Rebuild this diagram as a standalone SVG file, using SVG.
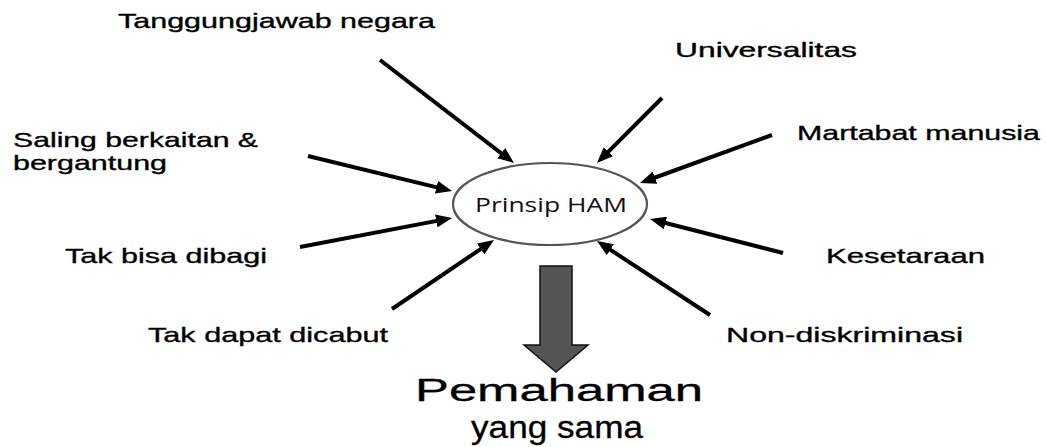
<svg xmlns="http://www.w3.org/2000/svg" width="1046" height="447" viewBox="0 0 1046 447">
  <style>
    .lbl { font-family: "Liberation Sans", Arial, sans-serif; font-size: 21px; fill: #000; stroke: #000; stroke-width: 0.35; }
    .big { font-family: "Liberation Sans", Arial, sans-serif; font-size: 31px; fill: #000; stroke: #000; stroke-width: 0.3; }
    .conn { stroke: #000; stroke-width: 4; fill: none; marker-end: url(#ah); }
  </style>
  <defs>
    <marker id="ah" markerUnits="userSpaceOnUse" markerWidth="16" markerHeight="13" refX="10" refY="6.5" orient="auto">
      <path d="M0,0 L16,6.5 L0,13 z" fill="#000"/>
    </marker>
  </defs>
  <rect width="1046" height="447" fill="#fff"/>

  <g id="connectors">
    <line class="conn" x1="380" y1="60" x2="509.2" y2="159.3"/>
    <line class="conn" x1="662" y1="98" x2="601.2" y2="158.8"/>
    <line class="conn" x1="772" y1="135" x2="645.6" y2="181"/>
    <line class="conn" x1="783" y1="253" x2="655.8" y2="220.5"/>
    <line class="conn" x1="710" y1="315" x2="602" y2="244.3"/>
    <line class="conn" x1="392" y1="309" x2="489" y2="243.4"/>
    <line class="conn" x1="300" y1="247" x2="446.1" y2="219.1"/>
    <line class="conn" x1="308" y1="156" x2="446.2" y2="189.6"/>
    <polygon id="block-arrow" points="540,266 572,266 572,345 588,345 556,372 524,345 540,345" fill="#555" stroke="#111" stroke-width="1.5"/>
  </g>

  <g id="center">
    <ellipse cx="550" cy="204" rx="97" ry="41" fill="#fff" stroke="#555" stroke-width="2.2"/>
    <text x="475" y="212" font-family="'Open Sans', 'Noto Sans', sans-serif" font-size="20" fill="#111" textLength="152" lengthAdjust="spacingAndGlyphs">Prinsip HAM</text>
  </g>

  <g id="n-tanggungjawab"><text class="lbl" x="118" y="28" font-size="22" textLength="317" lengthAdjust="spacingAndGlyphs">Tanggungjawab negara</text></g>
  <g id="n-universalitas"><text class="lbl" x="675" y="57" textLength="182" lengthAdjust="spacingAndGlyphs">Universalitas</text></g>
  <g id="n-saling">
    <text class="lbl" x="13" y="147" textLength="245" lengthAdjust="spacingAndGlyphs">Saling berkaitan &amp;</text>
    <text class="lbl" x="13" y="170" textLength="154" lengthAdjust="spacingAndGlyphs">bergantung</text>
  </g>
  <g id="n-martabat"><text class="lbl" x="797" y="140" textLength="243" lengthAdjust="spacingAndGlyphs">Martabat manusia</text></g>
  <g id="n-takbisa"><text class="lbl" x="65" y="263" textLength="202" lengthAdjust="spacingAndGlyphs">Tak bisa dibagi</text></g>
  <g id="n-kesetaraan"><text class="lbl" x="826" y="263" textLength="159" lengthAdjust="spacingAndGlyphs">Kesetaraan</text></g>
  <g id="n-takdapat"><text class="lbl" x="148" y="342" textLength="240" lengthAdjust="spacingAndGlyphs">Tak dapat dicabut</text></g>
  <g id="n-nondiskriminasi"><text class="lbl" x="726" y="342" textLength="237" lengthAdjust="spacingAndGlyphs">Non-diskriminasi</text></g>
  <g id="n-pemahaman">
    <text class="big" x="415" y="401" textLength="288" lengthAdjust="spacingAndGlyphs">Pemahaman</text>
    <text class="big" x="471" y="438" textLength="172" lengthAdjust="spacingAndGlyphs">yang sama</text>
  </g>
</svg>
